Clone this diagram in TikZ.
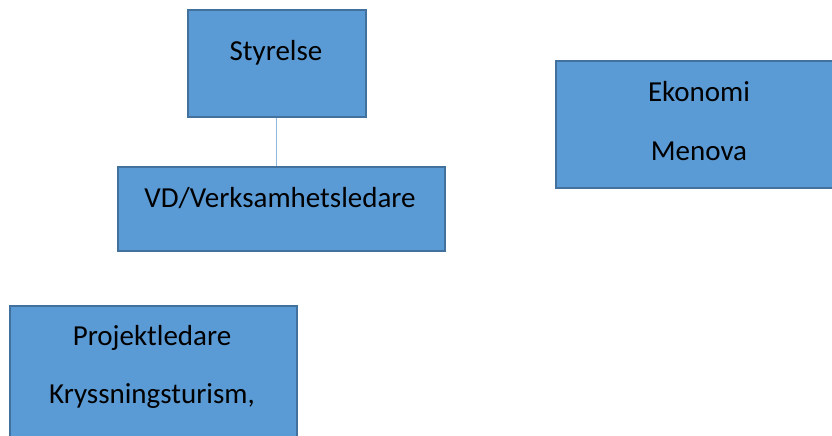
\documentclass[tikz,border=0pt]{standalone}
\usepackage{fontspec}
\setmainfont{Carlito}
\definecolor{boxfill}{HTML}{5B9BD5}
\definecolor{boxline}{HTML}{41719C}
\definecolor{conn}{HTML}{8FB8E0}
\begin{document}
\begin{tikzpicture}[x=1pt,y=-1pt,
  orgbox/.style={draw=boxline,line width=1.6pt,fill=boxfill,inner sep=0pt,anchor=north west},
  lbl/.style={font=\fontsize{29}{32}\selectfont,text=black,inner sep=0pt,anchor=base}]
\useasboundingbox (0,0) rectangle (832,436);
% boxes
\node[orgbox,minimum width=178pt,minimum height=107pt] (sty) at (187,9) {};
\node[orgbox,minimum width=327pt,minimum height=84pt] (vd) at (117,166) {};
\node[orgbox,minimum width=290pt,minimum height=127pt] (eko) at (555,60) {};
\node[orgbox,minimum width=287pt,minimum height=132pt] (proj) at (9,305) {};
% texts
\node[lbl] (tsty) at (276,60) {Styrelse};
\node[lbl] (tvd) at (280,207) {VD/Verksamhetsledare};
\node[lbl] (teko1) at (699,101) {Ekonomi};
\node[lbl] (teko2) at (699,160) {Menova};
\node[lbl] (tproj1) at (152,345) {Projektledare};
\node[lbl] (tproj2) at (152,403) {Kryssningsturism,};
% connector
\draw[conn,line width=1pt] (sty.south) -- (sty.south |- vd.north);
\end{tikzpicture}
\end{document}
